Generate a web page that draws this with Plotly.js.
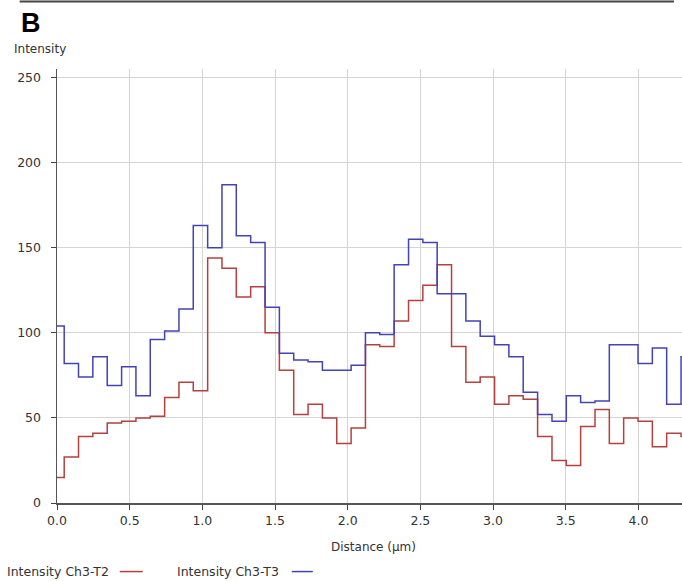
<!DOCTYPE html>
<html>
<head>
<meta charset="utf-8">
<script src="https://cdn.plot.ly/plotly-3.0.1.min.js"></script>
<style>html,body{margin:0;padding:0;background:#fff;}#chart{width:682px;height:581px;}</style>
</head>
<body>
<div id="chart"></div>
<script>
// Distance (µm) of each sample
const distance = [0.000, 0.099, 0.197, 0.296, 0.395, 0.494, 0.592, 0.691, 0.790, 0.888,
  0.987, 1.086, 1.184, 1.283, 1.382, 1.481, 1.579, 1.678, 1.777, 1.875,
  1.974, 2.073, 2.171, 2.270, 2.369, 2.468, 2.566, 2.665, 2.764, 2.862,
  2.961, 3.060, 3.158, 3.257, 3.356, 3.455, 3.553, 3.652, 3.751, 3.849,
  3.948, 4.047, 4.145, 4.244, 4.343];
// Intensity Ch3-T2 (red)
const intensityT2 = [15, 27, 39, 41, 47, 48, 50, 51, 62, 71,
  66, 144, 138, 121, 127, 100, 78, 52, 58, 50,
  35, 44, 93, 92, 107, 119, 128, 140, 92, 71,
  74, 58, 63, 61, 39, 25, 22, 45, 55, 35,
  50, 48, 33, 41, 39];
// Intensity Ch3-T3 (blue)
const intensityT3 = [104, 82, 74, 86, 69, 80, 63, 96, 101, 114,
  163, 150, 187, 157, 153, 115, 88, 84, 83, 78,
  78, 81, 100, 99, 140, 155, 153, 123, 123, 107,
  98, 93, 86, 65, 52, 48, 63, 59, 60, 93,
  93, 82, 91, 58, 86];
const seriesNames = ['Intensity Ch3-T2', 'Intensity Ch3-T3'];
const xTicks = [0, 0.5, 1.0, 1.5, 2.0, 2.5, 3.0, 3.5, 4.0];
const yTicks = [0, 50, 100, 150, 200, 250];

const redC = '#b4413e', blueC = '#4343b6';
const FAM = 'DejaVu Sans, Verdana, sans-serif';
const txt = {family: FAM, size: 12, color: '#333'};
const legTxt = {family: FAM, size: 12.5, color: '#333'};

const traces = [
  {x: distance, y: intensityT2, type: 'scatter', mode: 'lines', name: seriesNames[0],
   line: {shape: 'hvh', color: redC, width: 1.5}},
  {x: distance, y: intensityT3, type: 'scatter', mode: 'lines', name: seriesNames[1],
   line: {shape: 'hvh', color: blueC, width: 1.5}}
];

const W = 624.7, H = 434.8, L = 57.3, B = 77.7;
const px = v => (v - L) / W;            // pixel x -> paper x
const py = v => (581 - B - v) / H;      // pixel y -> paper y

const layout = {
  width: 682, height: 581,
  margin: {l: 57.3, r: 0, t: 68.5, b: 77.7, pad: 0},
  paper_bgcolor: '#fff', plot_bgcolor: '#fff',
  font: txt,
  showlegend: false,
  xaxis: {range: [0, 4.3], tickvals: xTicks, ticktext: xTicks.map(v => v.toFixed(1)),
    showgrid: true, gridcolor: '#d4d4d4', gridwidth: 1,
    showline: true, linecolor: '#555', linewidth: 1.5,
    ticks: 'outside', ticklen: 5, tickcolor: '#444', zeroline: false,
    tickfont: {family: FAM, size: 12.5, color: '#333'},
    title: {text: ''}},
  yaxis: {range: [0, 255], tickvals: yTicks,
    showgrid: true, gridcolor: '#d4d4d4', gridwidth: 1,
    showline: true, linecolor: '#555', linewidth: 1.5,
    ticks: 'outside', ticklen: 5, tickcolor: '#444', zeroline: false,
    ticklabelstandoff: 7,
    tickfont: {family: FAM, size: 12.5, color: '#333'},
    title: {text: ''}},
  annotations: [
    {xref: 'paper', yref: 'paper', x: px(19), y: py(22), xanchor: 'left', yanchor: 'middle',
     text: '<b>B</b>', showarrow: false, font: {family: 'Liberation Sans, Arial, sans-serif', size: 27, color: '#000'}},
    {xref: 'paper', yref: 'paper', x: px(12), y: py(48), xanchor: 'left', yanchor: 'middle',
     text: 'Intensity', showarrow: false, font: txt},
    {xref: 'paper', yref: 'paper', x: px(374), y: py(547), xanchor: 'center', yanchor: 'middle',
     text: 'Distance (µm)', showarrow: false, font: txt},
    {xref: 'paper', yref: 'paper', x: px(5), y: py(572), xanchor: 'left', yanchor: 'middle',
     text: seriesNames[0], showarrow: false, font: legTxt},
    {xref: 'paper', yref: 'paper', x: px(175), y: py(572), xanchor: 'left', yanchor: 'middle',
     text: seriesNames[1], showarrow: false, font: legTxt}
  ],
  shapes: [
    {type: 'line', xref: 'paper', yref: 'paper', x0: px(20), x1: px(674), y0: py(1), y1: py(1),
     line: {color: '#444', width: 2}},
    {type: 'line', xref: 'paper', yref: 'paper', x0: px(120), x1: px(143), y0: py(572), y1: py(572),
     line: {color: redC, width: 1.5}},
    {type: 'line', xref: 'paper', yref: 'paper', x0: px(292), x1: px(313), y0: py(572), y1: py(572),
     line: {color: blueC, width: 1.5}}
  ]
};

Plotly.newPlot('chart', traces, layout, {displayModeBar: false, staticPlot: true});
</script>
</body>
</html>
